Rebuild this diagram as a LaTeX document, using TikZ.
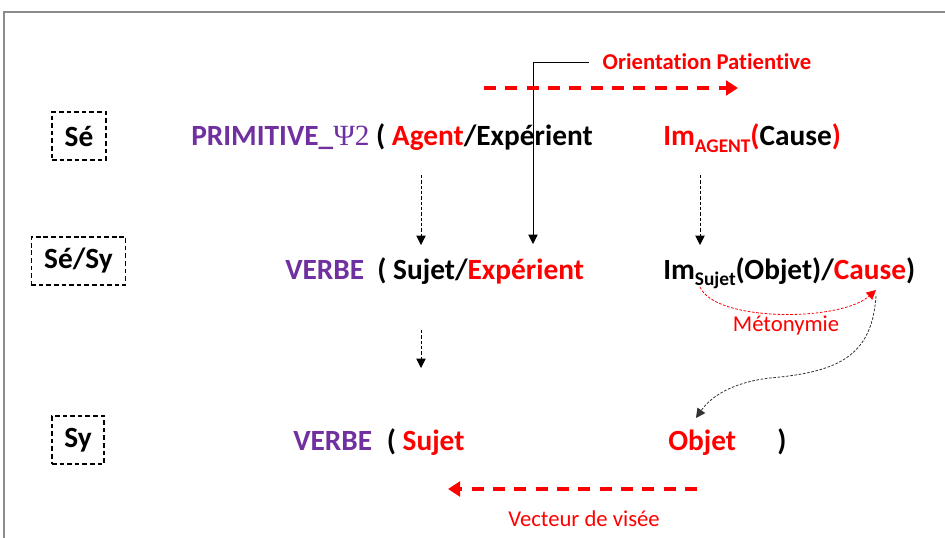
\documentclass[tikz,border=0pt]{standalone}
\usepackage{fontspec}
\setmainfont{Carlito}[Ligatures=NoCommon]
\newfontfamily\psifont{Liberation Serif}
\usetikzlibrary{arrows.meta}
\definecolor{vio}{HTML}{7030A0}
\definecolor{framegray}{HTML}{8C8C8C}
\newcommand{\bigtxt}{\fontsize{22}{26}\selectfont\bfseries}
\newcommand{\smalltxt}{\fontsize{17}{20}\selectfont}
\newcommand{\subtxt}[1]{\raisebox{-5pt}{\fontsize{14.5}{16}\selectfont\bfseries #1}}
\begin{document}
\begin{tikzpicture}[x=0.75pt,y=-0.75pt,
  txt/.style={inner sep=0pt,anchor=base west,font=\bigtxt},
  lbl/.style={inner sep=0pt,font=\smalltxt},
  levelbox/.style={draw,line width=0.9pt,dash pattern=on 3.5pt off 2.2pt,inner sep=0pt,minimum height=36pt,font=\bigtxt},
  thinarrow/.style={line width=0.6pt,dash pattern=on 2.5pt off 1.5pt,-{Triangle[width=7pt,length=7pt]}},
  redarrow/.style={red,line width=2.4pt,dash pattern=on 9pt off 7pt,-{Triangle[width=11pt,length=9pt]}}]
\useasboundingbox (0,0) rectangle (945,538);
% frame
\draw[framegray,line width=0.8pt] (945,12) -- (4,12) -- (4,538);
% level boxes
\node[levelbox,minimum width=40.5pt] (se) at (79,136) {Sé};
\node[levelbox,minimum width=71pt] (sesy) at (78.5,261) {Sé/Sy};
\node[levelbox,minimum width=39pt] (sy) at (78,440) {Sy};
% row 1
\node[txt] (prim) at (191,146) {\textcolor{vio}{PRIMITIVE\_}{\psifont\mdseries\textcolor{vio}{Ψ2}} ( \textcolor{red}{Agent}/Expérient};
\node[txt] (imag) at (663,146) {\textcolor{red}{Im\subtxt{AGENT}(}Cause\textcolor{red}{)}};
% row 2
\node[txt] (verbe2) at (285,279) {\textcolor{vio}{VERBE}\hspace{0.45em}( Sujet/\textcolor{red}{Expérient}};
\node[txt] (imsu) at (663,279) {Im\subtxt{Sujet}(Objet)/\textcolor{red}{Cause})};
% row 3
\node[txt] (verbe3) at (293,450) {\textcolor{vio}{VERBE}\hspace{0.5em}( \textcolor{red}{Sujet}};
\node[txt] (objet) at (668,450) {\textcolor{red}{Objet}};
\node[txt] (paren) at (777,450) {)};
% labels
\node[lbl,font=\smalltxt\bfseries,red] (orient) at (707,62) {Orientation Patientive};
\node[lbl,red] (meto) at (786,326) {Métonymie};
\node[lbl,red] (vect) at (584,519) {Vecteur de visée};
% coordinates
\coordinate (o1) at (589,62);
\coordinate (o2) at (533,62);
\coordinate (o3) at (533,244);
\coordinate (a1s) at (421,175);
\coordinate (a1e) at (421,245);
\coordinate (a2s) at (700,175);
\coordinate (a2e) at (700,245);
\coordinate (a3s) at (421,330);
\coordinate (a3e) at (421,368);
\coordinate (r1s) at (484,88);
\coordinate (r1e) at (738,88);
\coordinate (r2s) at (697,489);
\coordinate (r2e) at (448,489);
\coordinate (m1) at (700,287);
\coordinate (m2) at (876,290);
\coordinate (c1) at (876,296);
\coordinate (c2) at (696,418);
% connectors
\draw[line width=0.6pt,-{Triangle[width=7pt,length=7pt]}] (o1) -- (o2) -- (o3);
\draw[thinarrow] (a1s) -- (a1e);
\draw[thinarrow] (a2s) -- (a2e);
\draw[thinarrow] (a3s) -- (a3e);
\draw[redarrow] (r1s) -- (r1e);
\draw[redarrow] (r2s) -- (r2e);
\draw[red,line width=0.6pt,dash pattern=on 2pt off 1.2pt,-{Triangle[width=7pt,length=7pt]}] (m1) .. controls (715,322) and (840,322) .. (m2);
\draw[black!80,line width=0.6pt,dash pattern=on 2pt off 1.2pt,-{Triangle[width=7pt,length=7pt]}] (c1) .. controls (872,355) and (840,372) .. (770,378) .. controls (735,382) and (712,395) .. (c2);
\end{tikzpicture}
\end{document}
